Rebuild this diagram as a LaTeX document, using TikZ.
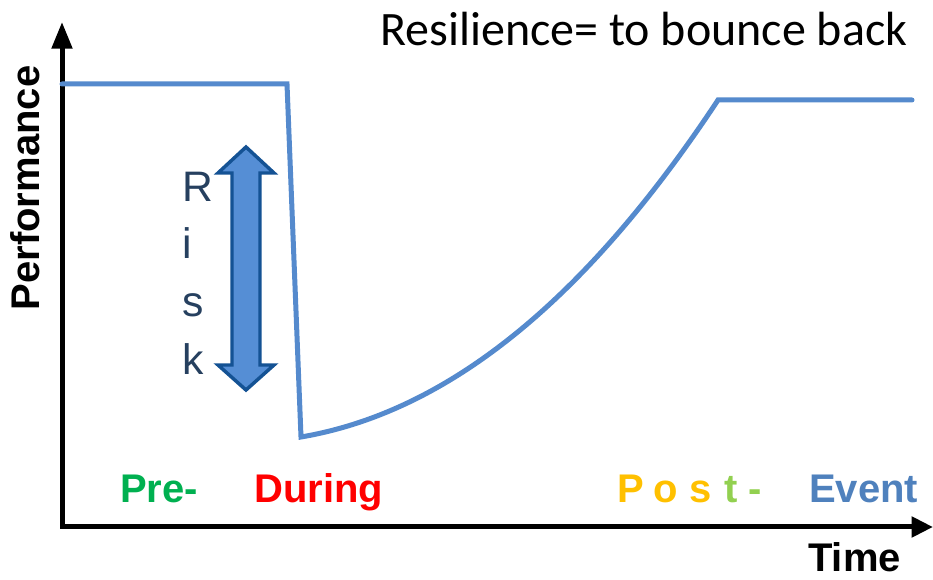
\documentclass[tikz,border=0pt]{standalone}
\usepackage{fontspec}
\setmainfont{Liberation Sans}
\newfontfamily\calibri{Carlito}
\usetikzlibrary{arrows.meta}
\definecolor{curveblue}{RGB}{85,138,205}
\definecolor{riskfill}{RGB}{85,142,213}
\definecolor{riskborder}{RGB}{20,82,148}
\definecolor{risktext}{RGB}{38,64,95}
\definecolor{pregreen}{RGB}{0,176,80}
\definecolor{durred}{RGB}{255,0,0}
\definecolor{postyellow}{RGB}{255,192,0}
\definecolor{postgreen}{RGB}{146,208,80}
\definecolor{eventblue}{RGB}{79,129,189}
\tikzset{
  lbl/.style={inner sep=0pt, anchor=base west, font=\fontsize{30pt}{36pt}\selectfont\bfseries},
  risklbl/.style={inner sep=0pt, anchor=base west, text=risktext, font=\fontsize{32pt}{38pt}\selectfont},
  axisline/.style={line width=3.75pt},
  perf/.style={line width=3.75pt, curveblue, line join=miter, line cap=round},
}
\begin{document}
\begin{tikzpicture}[x=0.75pt, y=-0.75pt]
\useasboundingbox (0,0) rectangle (933,580);
% axes
\coordinate (origin) at (62,527);
\coordinate (ytip) at (62,22);
\coordinate (xtip) at (933,527);
\draw[axisline, line cap=rect, -{Triangle[length=20pt, width=15pt]}] (origin) -- (ytip);
\draw[axisline, -{Triangle[length=16pt, width=15pt]}] (origin) -- (xtip);
% performance curve
\draw[perf] (62,84) -- (287,84) -- (301,437)
  .. controls (448,412) and (586,300) .. (718,100) -- (912,100);
% risk double arrow
\draw[line width=2.6pt, draw=riskborder, fill=riskfill, line join=miter]
  (246,147) -- (274,173) -- (260,173) -- (260,365) -- (274,365) -- (246,390)
  -- (218,365) -- (232,365) -- (232,173) -- (218,173) -- cycle;
\node[risklbl] (r1) at (182,202) {R};
\node[risklbl] (r2) at (182,259) {i};
\node[risklbl] (r3) at (182,317) {s};
\node[risklbl] (r4) at (182,375) {k};
% title
\node[inner sep=0pt, anchor=base west, font=\calibri\fontsize{36pt}{42pt}\selectfont] (title) at (380,46) {Resilience= to bounce back};
% axis labels
\node[inner sep=0pt, anchor=base, rotate=90, font=\fontsize{30pt}{36pt}\selectfont\bfseries] (ylab) at (40,188) {Performance};
\node[lbl] (xlab) at (808,572) {Time};
% phase labels
\node[lbl, text=pregreen] (pre) at (120,503) {Pre-};
\node[lbl, text=durred] (during) at (254,503) {During};
\node[lbl, text=postyellow] (p1) at (617,503) {P};
\node[lbl, text=postyellow] (p2) at (653,503) {o};
\node[lbl, text=postyellow] (p3) at (689,503) {s};
\node[lbl, text=postgreen] (p4) at (724,503) {t};
\node[lbl, text=postgreen] (p5) at (748,503) {-};
\node[lbl, text=eventblue] (event) at (809,503) {Event};
\end{tikzpicture}
\end{document}
